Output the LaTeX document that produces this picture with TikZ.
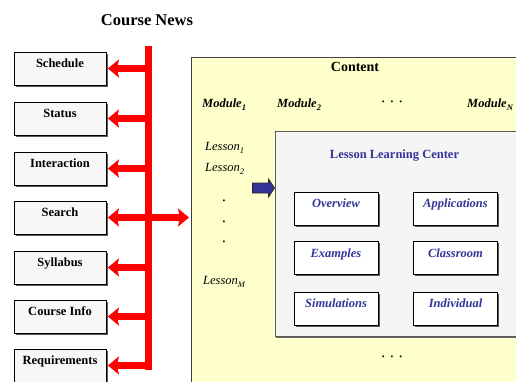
\documentclass[tikz,border=0pt]{standalone}
\usepackage{fontspec}
\setmainfont{Liberation Serif}
\usetikzlibrary{arrows.meta,shadows}
\definecolor{ybg}{HTML}{FFFFCC}
\definecolor{gbg}{HTML}{F5F5F5}
\definecolor{lbox}{HTML}{F7F7F7}
\definecolor{blu}{HTML}{333399}
\definecolor{redc}{HTML}{FF0000}
\newcommand{\mysub}[1]{\raisebox{-3.5pt}{\fontsize{8.5}{9}\selectfont #1}}
\tikzset{
  leftbox/.style={draw=black, line width=0.8pt, fill=lbox, minimum width=92pt, minimum height=33pt,
    inner sep=0pt, text height=9pt, text depth=11pt,
    font=\fontsize{12.5}{14}\selectfont\bfseries,
    drop shadow={shadow xshift=1.8pt, shadow yshift=-1.8pt, fill=black!65, opacity=1}},
  innerbox/.style={draw=black, line width=0.8pt, fill=white, minimum width=84pt, minimum height=33pt,
    inner sep=0pt, text height=9pt, text depth=11pt, text=blu,
    font=\fontsize{12.5}{14}\selectfont\bfseries\itshape,
    drop shadow={shadow xshift=1.5pt, shadow yshift=-1.5pt, fill=black!65, opacity=1}},
  redhead/.tip={Stealth[length=11pt,width=18pt,inset=2pt]},
  redarrow/.style={draw=redc, line width=6.5pt, -redhead},
  redarrows/.style={draw=redc, line width=6.5pt, redhead-redhead},
  modlbl/.style={font=\fontsize{12.5}{14}\selectfont\bfseries\itshape, anchor=base west, inner sep=0pt},
  leslbl/.style={font=\fontsize{12.5}{14}\selectfont\itshape, anchor=base west, inner sep=0pt},
  dotlbl/.style={font=\fontsize{8}{9}\selectfont, inner sep=0pt},
}
\begin{document}
\begin{tikzpicture}[x=1pt,y=-1pt]
\useasboundingbox (0,0) rectangle (516,381);
\clip (0,0) rectangle (516,381);

% title
\node[font=\fontsize{16.5}{18}\selectfont\bfseries, anchor=base, inner sep=0pt] (news) at (147,25) {Course News};

% content box
\node[draw=black!75, line width=1pt, fill=ybg, anchor=north west, minimum width=360pt, minimum height=360pt, inner sep=0pt] (content) at (190.5,57) {};
\node[font=\fontsize{14}{16}\selectfont\bfseries, anchor=base, inner sep=0pt] (contentlbl) at (355,71) {Content};

\node[modlbl] (m1) at (202,107) {Module\mysub{1}};
\node[modlbl] (m2) at (277,107) {Module\mysub{2}};
\node[dotlbl] (mdots) at (392,103) {•\hspace{6pt}•\hspace{6pt}•};
\node[modlbl] (mn) at (467,107) {Module\mysub{N}};

\node[leslbl] (l1) at (205,150) {Lesson\mysub{1}};
\node[leslbl] (l2) at (205,171) {Lesson\mysub{2}};
\node[dotlbl] (ld1) at (224,202) {•};
\node[dotlbl] (ld2) at (224,222.5) {•};
\node[dotlbl] (ld3) at (224,243) {•};
\node[leslbl] (lm) at (203,284) {Lesson\mysub{M}};

% lesson learning center
\node[draw=black!65, line width=1pt, fill=gbg, anchor=north west, minimum width=300pt, minimum height=205pt, inner sep=0pt,
  drop shadow={shadow xshift=1.2pt, shadow yshift=-1.5pt, fill=black!60, opacity=1}] (llc) at (274.5,131) {};
\node[font=\fontsize{12.5}{14}\selectfont\bfseries, text=blu, anchor=base, inner sep=0pt] (llclbl) at (394.5,158) {Lesson Learning Center};

\node[innerbox] (ov) at (336,208.5) {Overview};
\node[innerbox] (ap) at (455.5,208.5) {Applications};
\node[innerbox] (ex) at (336,258) {Examples};
\node[innerbox] (cl) at (455.5,258) {Classroom};
\node[innerbox] (si) at (336,308.5) {Simulations};
\node[innerbox] (in) at (455.5,308.5) {Individual};

\node[dotlbl] (bdots) at (392,358) {•\hspace{6pt}•\hspace{6pt}•};

% blue block arrow pointing into the learning center
\coordinate (btip) at (llc.west |- 0,188);
\draw[draw=black!85, line width=0.8pt, fill=blu, line join=miter]
  ([xshift=-22pt,yshift=-5pt]btip) -- ([xshift=-6pt,yshift=-5pt]btip) -- ([xshift=-6pt,yshift=-9pt]btip)
  -- (btip) -- ([xshift=-6pt,yshift=9pt]btip) -- ([xshift=-6pt,yshift=5pt]btip)
  -- ([xshift=-22pt,yshift=5pt]btip) -- cycle;

% left boxes
\node[leftbox] (sch) at (60,68.5) {Schedule};
\node[leftbox] (sta) at (60,118.5) {Status};
\node[leftbox] (int) at (60,168.5) {Interaction};
\node[leftbox] (sea) at (60,217.5) {Search};
\node[leftbox] (syl) at (60,267.5) {Syllabus};
\node[leftbox] (cin) at (60,316.5) {Course Info};
\node[leftbox] (req) at (60,365.5) {Requirements};

% red bar
\coordinate (bartop) at (148.5,46);
\coordinate (barbot) at (148.5,370);
\draw[draw=redc, line width=7pt] (bartop) -- (barbot);

\foreach \b in {sch,sta,int,syl,cin,req}{
  \draw[redarrow] (bartop |- \b.east) -- ([xshift=1.5pt]\b.east);
}
\draw[redarrows] ([xshift=1.5pt]sea.east) -- ([xshift=-1.5pt]sea.east -| content.west);
\end{tikzpicture}
\end{document}
